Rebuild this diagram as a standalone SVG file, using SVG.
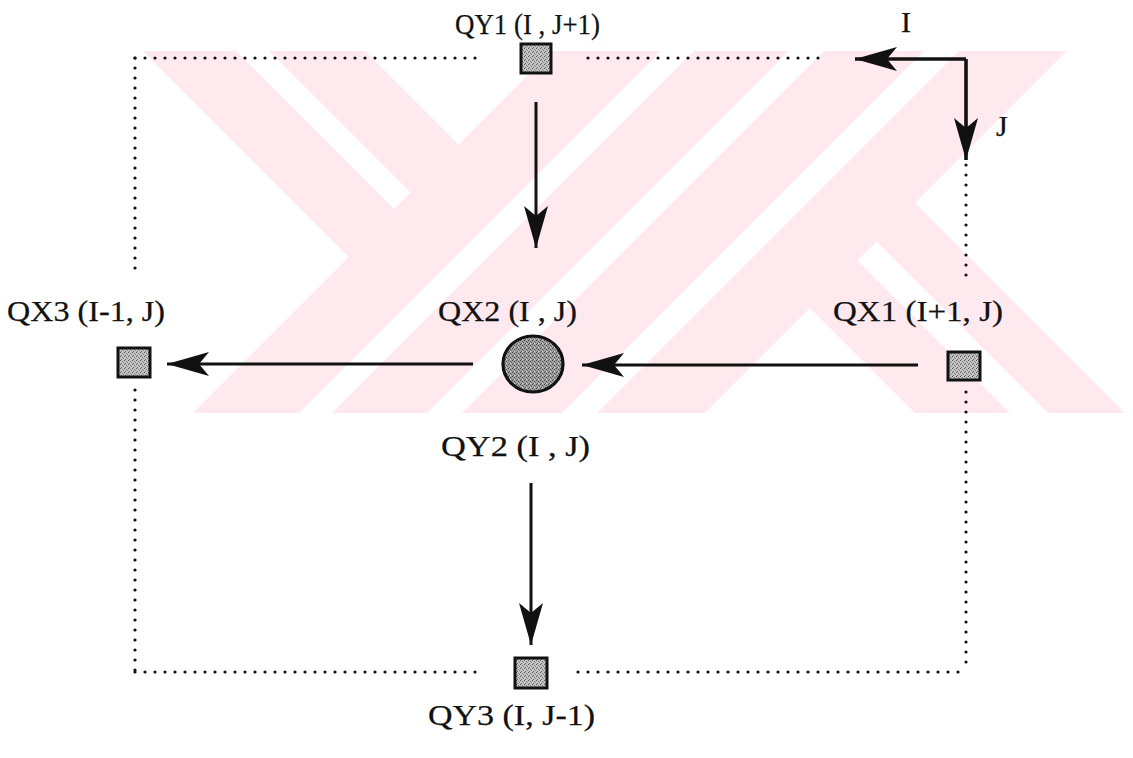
<svg xmlns="http://www.w3.org/2000/svg" width="1133" height="758" viewBox="0 0 1133 758">
<style>
.lbl{font-family:"Liberation Serif","Times New Roman",serif;font-size:30px;fill:#111;stroke:#111;stroke-width:0.25}
.dot{fill:none;stroke:#111;stroke-width:3.2;stroke-linecap:round;stroke-dasharray:0 10}
.arr{fill:none;stroke:#111;stroke-width:3;marker-end:url(#ah)}
.axis{fill:none;stroke:#111;stroke-width:3.6;marker-end:url(#ah)}
.box{fill:url(#stip);stroke:#111;stroke-width:3}
.wm{fill:#fde9ee}
.wmw{fill:#ffffff}
</style>
<defs>
<pattern id="stip" width="4" height="4" patternUnits="userSpaceOnUse">
<rect width="4" height="4" fill="#c4c4c4"/>
<rect x="0" y="0" width="1" height="1" fill="#555"/>
<rect x="2" y="1" width="1" height="1" fill="#777"/>
<rect x="1" y="3" width="1" height="1" fill="#666"/>
<rect x="3" y="2" width="1" height="1" fill="#888"/>
</pattern>
<pattern id="stip2" width="4" height="4" patternUnits="userSpaceOnUse">
<rect width="4" height="4" fill="#a0a0a0"/>
<rect x="0" y="0" width="1" height="1" fill="#444"/>
<rect x="2" y="1" width="1" height="1" fill="#555"/>
<rect x="1" y="3" width="1" height="1" fill="#505050"/>
<rect x="3" y="2" width="1" height="1" fill="#666"/>
<rect x="2" y="3" width="1" height="1" fill="#ddd"/>
</pattern>
<marker id="ah" markerUnits="userSpaceOnUse" markerWidth="46" markerHeight="28" refX="44" refY="13" orient="auto" viewBox="0 0 46 26">
<path d="M44,13 L2,1 L12,13 L2,25 Z" fill="#111"/>
</marker>
</defs>
<rect width="1133" height="758" fill="#ffffff"/>
<g id="watermark">
<rect class="wm" x="0" y="51" width="1133" height="362"/>
<polygon class="wmw" points="0,40 132,40 349,257 186,420 0,420"/>
<polygon class="wmw" points="225,40 258,40 410.5,192.5 394,209"/>
<polygon class="wmw" points="354,40 563,40 458.5,144.5"/>
<polygon class="wmw" points="672,40 705,40 325,420 292,420"/>
<polygon class="wmw" points="800,40 835,40 455,420 420,420"/>
<polygon class="wmw" points="935,40 970,40 590,420 555,420"/>
<polygon class="wmw" points="1078,40 1133,40 1133,420 1132,420 915,203"/>
<polygon class="wmw" points="876.5,241.5 1055,420 1017,420 857.5,260.5"/>
<polygon class="wmw" points="810,308 922,420 698,420"/>
<rect fill="#ffffff" x="0" y="0" width="1133" height="51"/>
<rect fill="#ffffff" x="0" y="413" width="1133" height="12"/>
</g>
<g id="connectors">
<path class="dot" d="M135,58 H482"/>
<path class="dot" d="M588,58 H823"/>
<path class="dot" d="M135,58 V275"/>
<path class="dot" d="M135,390 V672"/>
<path class="dot" d="M966,165 V278"/>
<path class="dot" d="M966,392 V672"/>
<path class="dot" d="M135,672 H484"/>
<path class="dot" d="M578,672 H966"/>
<path class="arr" d="M536,102 V248"/>
<path class="arr" d="M918,365 H582"/>
<path class="arr" d="M473,364 H167"/>
<path class="arr" d="M531,483 V645"/>
<path class="axis" d="M966,59 H855"/>
<path class="axis" d="M966,59 V160"/>
</g>
<g id="axis-labels">
<text class="lbl" x="901" y="32" font-size="32">I</text>
<text class="lbl" x="996" y="136" font-size="30">J</text>
</g>
<g id="QY1">
<rect class="box" x="521" y="44" width="30" height="29"/>
<text class="lbl" x="455" y="34" textLength="145" lengthAdjust="spacingAndGlyphs">QY1 (I , J+1)</text>
</g>
<g id="QX3">
<rect class="box" x="118" y="348" width="32" height="29"/>
<text class="lbl" x="7" y="321" textLength="158" lengthAdjust="spacingAndGlyphs">QX3 (I-1, J)</text>
</g>
<g id="QX2">
<ellipse cx="533" cy="364" rx="30" ry="28" fill="url(#stip2)" stroke="#111" stroke-width="3.2"/>
<text class="lbl" x="438" y="321" textLength="139" lengthAdjust="spacingAndGlyphs">QX2 (I , J)</text>
<text class="lbl" x="441" y="456" textLength="149" lengthAdjust="spacingAndGlyphs">QY2 (I , J)</text>
</g>
<g id="QX1">
<rect class="box" x="948" y="352" width="32" height="28"/>
<text class="lbl" x="833" y="321" textLength="170" lengthAdjust="spacingAndGlyphs">QX1 (I+1, J)</text>
</g>
<g id="QY3">
<rect class="box" x="515" y="658" width="32" height="30"/>
<text class="lbl" x="428" y="725" textLength="167" lengthAdjust="spacingAndGlyphs">QY3 (I, J-1)</text>
</g>
</svg>
